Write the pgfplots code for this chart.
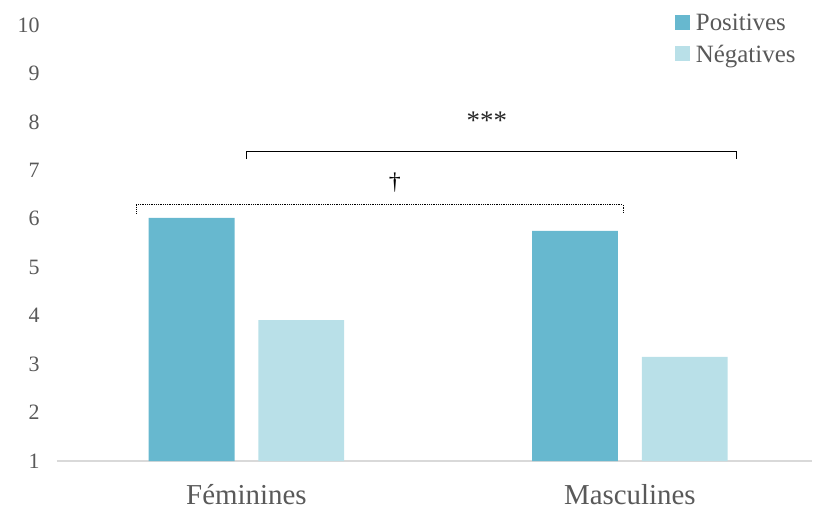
\documentclass[border=0pt]{standalone}
\usepackage{pgfplots}
\pgfplotsset{compat=1.18}
\usepackage{fontspec}
\setmainfont{Liberation Serif}
\definecolor{pos}{HTML}{67B8CF}
\definecolor{neg}{HTML}{B9E0E8}
\definecolor{txt}{HTML}{595959}
\definecolor{axl}{HTML}{D9D9D9}
\begin{document}
\begin{tikzpicture}
\begin{axis}[
  scale only axis,
  width=755bp, height=436bp,
  xmin=-0.494, xmax=1.475,
  ymin=1, ymax=10,
  ytick={1,2,...,10},
  xtick={0,1},
  xticklabels={Féminines, Masculines},
  axis x line*=bottom,
  axis y line*=left,
  y axis line style={draw=none},
  x axis line style={draw=axl, line width=1.5bp},
  major tick length=0pt,
  /pgf/number format/assume math mode=true,
  yticklabel style={font=\fontsize{22}{24}\selectfont, text=txt, xshift=-14bp},
  xticklabel style={font=\fontsize{29}{32}\selectfont, text=txt, yshift=-20bp},
  legend style={at={(rel axis cs:0.985,1.035)}, anchor=north east, draw=none, fill=none,
    font=\fontsize{25}{27}\selectfont, text=txt, row sep=9bp, cells={anchor=west},
    /tikz/every odd column/.append style={column sep=4bp}},
  legend image code/.code={\fill[#1] (0bp,-7bp) rectangle (15bp,8bp);},
  clip=true,
]
\addplot[ybar, bar width=0.224, bar shift=-0.143, fill=pos, draw=none] coordinates {(0,6.02) (1,5.75)};
\addlegendentry{Positives}
\addplot[ybar, bar width=0.224, bar shift=0.143, fill=neg, draw=none] coordinates {(0,3.91) (1,3.15)};
\addlegendentry{Négatives}
\draw[black, line width=1bp] (axis cs:0.001,7.23) -- (axis cs:0.001,7.38) -- (axis cs:1.279,7.38) -- (axis cs:1.279,7.23);
\draw[black, densely dotted, line width=0.8bp] (axis cs:-0.288,6.11) -- (axis cs:-0.288,6.29) -- (axis cs:0.982,6.29) -- (axis cs:0.982,6.11);
\node[font=\fontsize{27}{29}\selectfont, text=black!85] at (axis cs:0.627,8.02) {***};
\node[font=\fontsize{24}{26}\selectfont, text=black] at (axis cs:0.387,6.74) {†};
\end{axis}
\path[use as bounding box] (-57bp,-51bp) rectangle (756bp,461bp);
\end{tikzpicture}
\end{document}
